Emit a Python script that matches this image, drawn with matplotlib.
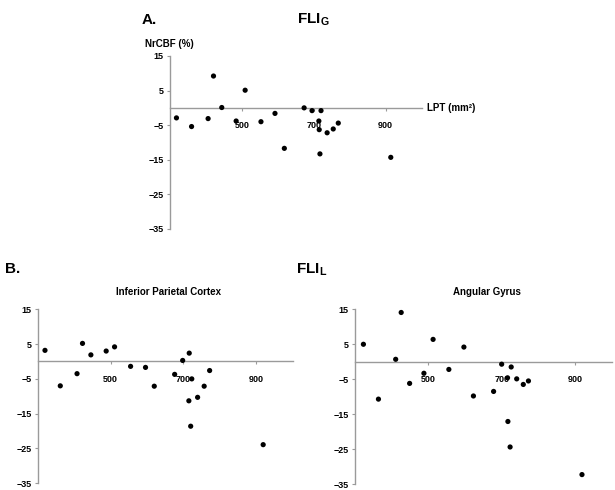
import numpy as np
import matplotlib
matplotlib.use("Agg")
import matplotlib.pyplot as plt
import matplotlib.transforms as mtransforms

plt.rcParams["font.family"] = ["Liberation Sans", "DejaVu Sans"]
plt.rcParams["mathtext.fontset"] = "custom"
plt.rcParams["mathtext.rm"] = "Liberation Sans"
plt.rcParams["mathtext.bf"] = "Liberation Sans:bold"

# FLI_G vs LPT
lpt_g  = [318, 360, 406, 421, 444, 484, 509, 553, 592, 618,
          673, 695, 714, 715, 720, 717, 737, 754, 768, 914]
rcbf_g = [-2.9, -5.4, -3.1, 9.2, 0.1, -3.8, 5.1, -4.0, -1.6, -11.7,
          0.0, -0.8, -3.8, -6.3, -0.8, -13.3, -7.2, -6.1, -4.4, -14.3]

# FLI_L, inferior parietal cortex
lpt_ipc  = [320, 362, 408, 423, 446, 488, 511, 555, 596, 620,
            676, 698, 716, 723, 715, 720, 739, 757, 772, 919]
rcbf_ipc = [3.2, -7.0, -3.5, 5.2, 1.9, 3.0, 4.2, -1.4, -1.7, -7.1,
            -3.7, 0.3, 2.4, -5.0, -11.3, -18.6, -10.3, -7.1, -2.6, -23.9]

# FLI_L, angular gyrus
lpt_ag  = [323, 364, 411, 426, 449, 488, 513, 556, 597, 623,
           678, 700, 716, 726, 717, 723, 741, 759, 773, 919]
rcbf_ag = [5.0, -10.7, 0.7, 14.1, -6.2, -3.3, 6.4, -2.2, 4.2, -9.8,
           -8.5, -0.7, -4.6, -1.5, -17.1, -24.4, -4.9, -6.5, -5.5, -32.3]

x_ticks = [500, 700, 900]
y_ticks = [15, 5, -5, -15, -25, -35]

AX_GREY = "#9a9a9a"

fig = plt.figure(figsize=(6.15, 4.9), dpi=100)


def panel(rect, x, y):
    ax = fig.add_axes(rect)
    ax.scatter(x, y, s=14, color="black", edgecolors="none", zorder=3)
    ax.set_xlim(300, 1000)
    ax.set_ylim(-35, 15)
    ax.set_xticks(x_ticks)
    ax.set_yticks(y_ticks)
    ax.spines["top"].set_visible(False)
    ax.spines["right"].set_visible(False)
    ax.spines["bottom"].set_position(("data", 0))
    for s in ("left", "bottom"):
        ax.spines[s].set_color(AX_GREY)
        ax.spines[s].set_linewidth(1.0)
    ax.tick_params(axis="both", colors=AX_GREY, length=2.5, width=0.8,
                   labelsize=6.5, labelcolor="black")
    ax.tick_params(axis="x", pad=7)
    ax.tick_params(axis="y", pad=2)
    for lab in ax.get_xticklabels() + ax.get_yticklabels():
        lab.set_fontweight("bold")
    ax.set_facecolor("none")
    return ax


axA = panel([0.2764, 0.5327, 0.4093, 0.3531], lpt_g, rcbf_g)
axB = panel([0.0613, 0.0137, 0.4146, 0.3551], lpt_ipc, rcbf_ipc)
axC = panel([0.5772, 0.0122, 0.4174, 0.3565], lpt_ag, rcbf_ag)

# axis captions for panel A
trans = mtransforms.blended_transform_factory(axA.transAxes, axA.transData)
axA.text(1.02, 0, "LPT (mm²)", transform=trans, ha="left", va="center",
         fontsize=7, fontweight="bold")
fig.text(145 / 615, 1 - 44 / 490, "NrCBF (%)", ha="left", va="center",
         fontsize=7, fontweight="bold")

# panel labels and headings
fig.text(142 / 615, 1 - 23.5 / 490, "A.", ha="left", va="baseline",
         fontsize=11, fontweight="bold")
fig.text(296.7 / 615, 1 - 23.5 / 490, r"FLI$_\mathbf{G}$", ha="left",
         va="baseline", fontsize=11, fontweight="bold")
fig.text(5 / 615, 1 - 273 / 490, "B.", ha="left", va="baseline",
         fontsize=11, fontweight="bold")
fig.text(296 / 615, 1 - 273 / 490, r"FLI$_\mathbf{L}$", ha="left",
         va="baseline", fontsize=11, fontweight="bold")
fig.text(168 / 615, 1 - 292 / 490, "Inferior Parietal Cortex", ha="center",
         va="center", fontsize=7, fontweight="bold")
fig.text(486.7 / 615, 1 - 292 / 490, "Angular Gyrus", ha="center",
         va="center", fontsize=7, fontweight="bold")

fig.savefig("out.png", dpi=100)
